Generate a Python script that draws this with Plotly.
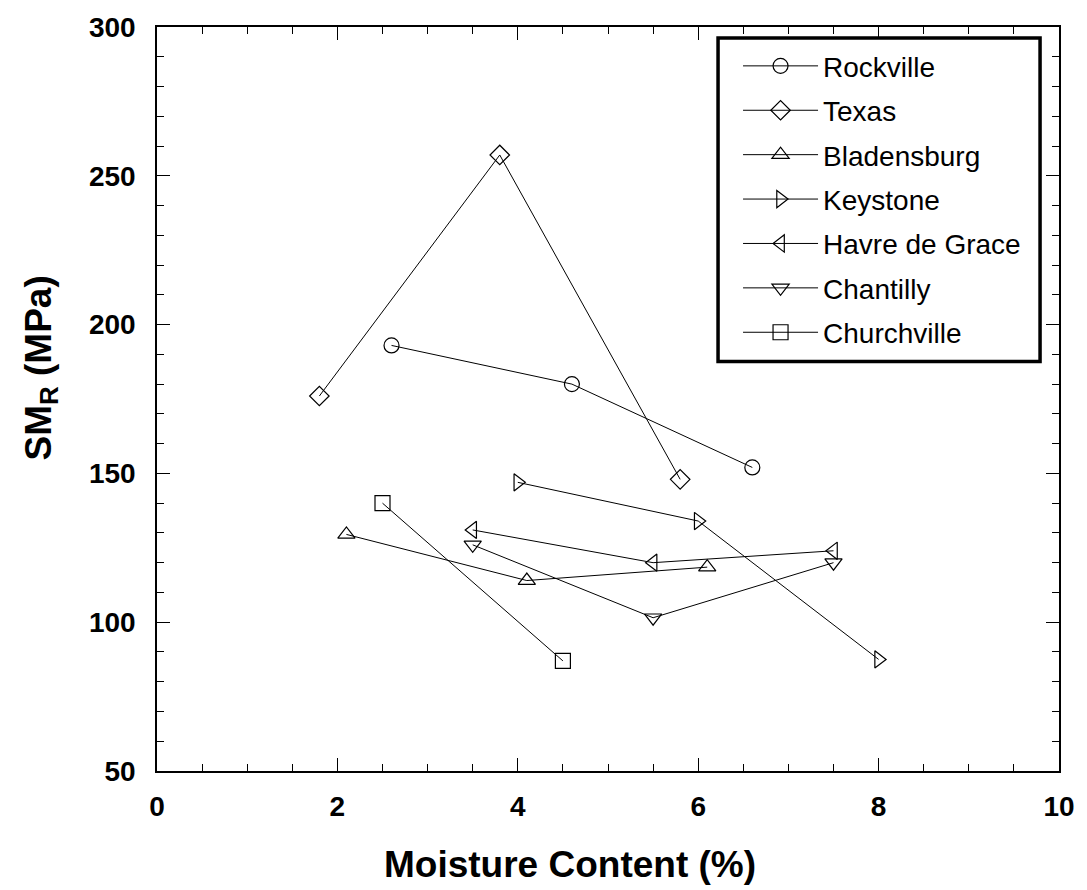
import plotly.graph_objects as go

# Resilient modulus (MPa) vs. moisture content (%) for each material source
sites = ["Rockville", "Texas", "Bladensburg", "Keystone",
         "Havre de Grace", "Chantilly", "Churchville"]
symbols = ["circle-open", "diamond-open", "triangle-up-open", "triangle-right-open",
           "triangle-left-open", "triangle-down-open", "square-open"]

rockville_mc = [2.6, 4.6, 6.6]
rockville_smr = [193, 180, 152]
texas_mc = [1.8, 3.8, 5.8]
texas_smr = [176, 257, 148]
bladensburg_mc = [2.1, 4.1, 6.1]
bladensburg_smr = [129.5, 114, 118.5]
keystone_mc = [4.0, 6.0, 8.0]
keystone_smr = [147, 134, 87.5]
havre_mc = [3.5, 5.5, 7.5]
havre_smr = [131, 120, 124]
chantilly_mc = [3.5, 5.5, 7.5]
chantilly_smr = [126, 101.5, 120]
churchville_mc = [2.5, 4.5]
churchville_smr = [140, 87]

series = [
    (rockville_mc, rockville_smr),
    (texas_mc, texas_smr),
    (bladensburg_mc, bladensburg_smr),
    (keystone_mc, keystone_smr),
    (havre_mc, havre_smr),
    (chantilly_mc, chantilly_smr),
    (churchville_mc, churchville_smr),
]

FONT = "Liberation Sans, Arial, sans-serif"

fig = go.Figure()
for i, (name, sym, (xs, ys)) in enumerate(zip(sites, symbols, series)):
    fig.add_trace(go.Scatter(
        x=xs, y=ys, name=name, mode="lines+markers",
        legendgroup=f"g{i}",
        line=dict(color="black", width=1),
        marker=dict(symbol=sym, size=15, color="black",
                    line=dict(color="black", width=1.2)),
    ))

axis_common = dict(
    showline=True, linecolor="black", linewidth=1.5, mirror="ticks",
    ticks="inside", ticklen=13, tickwidth=1.2, tickcolor="black",
    showgrid=False, zeroline=False,
    tickfont=dict(family=FONT, size=28, color="black", weight="bold"),
)

fig.update_xaxes(
    range=[0, 10], tick0=0, dtick=2,
    minor=dict(dtick=0.5, ticks="inside", ticklen=7, tickwidth=1, tickcolor="black"),
    ticklabelstandoff=10,
    **axis_common,
)
fig.update_yaxes(
    range=[50, 300], tick0=50, dtick=50,
    minor=dict(dtick=10, ticks="inside", ticklen=7, tickwidth=1, tickcolor="black"),
    ticklabelstandoff=14,
    **axis_common,
)

# Axis titles placed as annotations so their positions can be set freely
fig.add_annotation(
    text="Moisture Content (%)", xref="paper", yref="paper",
    x=0.458, y=-0.126, xanchor="center", yanchor="middle", showarrow=False,
    font=dict(family=FONT, size=37, color="black", weight="bold"),
)
fig.add_annotation(
    text="SM<sub>R</sub> (MPa)", xref="paper", yref="paper",
    x=-0.1286, y=0.541, xanchor="center", yanchor="middle", showarrow=False,
    textangle=-90,
    font=dict(family=FONT, size=37, color="black", weight="bold"),
)

# Legend frame: white box with a heavy black border
fig.add_shape(
    type="rect", xref="paper", yref="paper",
    x0=0.622, x1=0.979, y0=0.5503, y1=0.9852,
    line=dict(color="black", width=3.5), fillcolor="white", layer="above",
)

fig.update_layout(
    width=1087, height=890,
    margin=dict(l=157, r=20, t=26, b=119),
    paper_bgcolor="white", plot_bgcolor="white",
    showlegend=True,
    legend=dict(
        x=0.622, y=0.985, xanchor="left", yanchor="top",
        bgcolor="rgba(0,0,0,0)", bordercolor="rgba(0,0,0,0)", borderwidth=3,
        font=dict(family=FONT, size=28, color="black"),
        itemwidth=75, tracegroupgap=5, traceorder="grouped",
        indentation=17,
    ),
)

fig.write_html("out.html")
